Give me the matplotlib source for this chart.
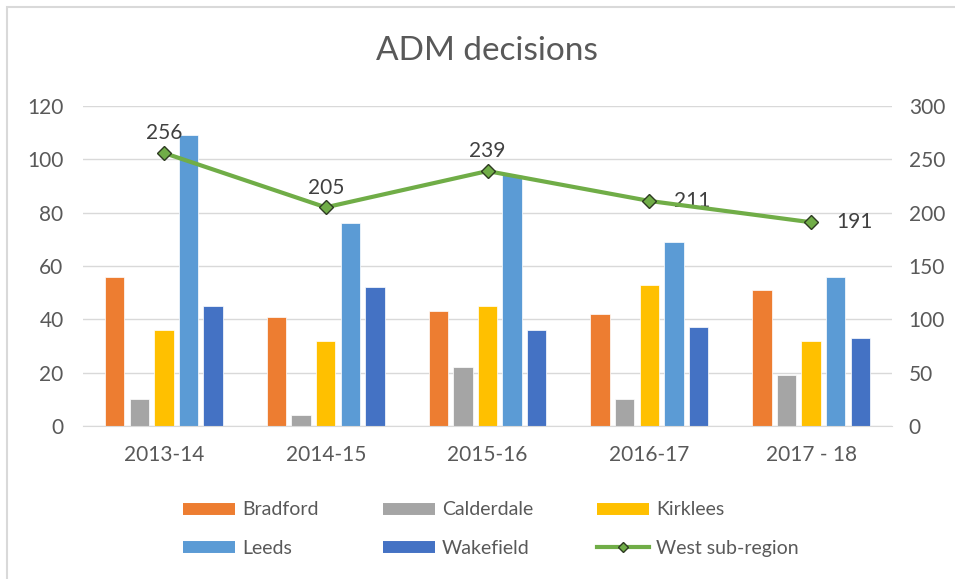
import matplotlib
matplotlib.use("Agg")
import matplotlib.pyplot as plt
import numpy as np
from matplotlib.lines import Line2D
from matplotlib.patches import Rectangle

plt.rcParams['font.family'] = ['Lato', 'DejaVu Sans']

categories = ["2013-14", "2014-15", "2015-16", "2016-17", "2017 - 18"]
bradford = [56, 41, 43, 42, 51]
calderdale = [10, 4, 22, 10, 19]
kirklees = [36, 32, 45, 53, 32]
leeds = [109, 76, 94, 69, 56]
wakefield = [45, 52, 36, 37, 33]
west = [256, 205, 239, 211, 191]

series = [("Bradford", bradford, "#ED7D31"),
          ("Calderdale", calderdale, "#A5A5A5"),
          ("Kirklees", kirklees, "#FFC000"),
          ("Leeds", leeds, "#5B9BD5"),
          ("Wakefield", wakefield, "#4472C4")]

txt = "#595959"
fig = plt.figure(figsize=(9.55, 5.79), dpi=100)
ax = fig.add_axes([83/955, 1-426/579, (892-83)/955, (426-106)/579])
ax2 = ax.twinx()

x = np.arange(len(categories))
step = 0.152
width = 0.12
handles = {}
for i, (name, vals, col) in enumerate(series):
    ax.bar(x + (i-2)*step, vals, width, color=col, edgecolor="white", linewidth=0.5, zorder=2, label=name)
    handles[name] = Line2D([], [], color=col, lw=8.6, solid_capstyle='butt')

ax.set_xlim(-0.5, len(categories)-0.5)
ax.set_ylim(0, 120)
ax.set_yticks(range(0, 121, 20))
ax.set_xticks(x)
ax.set_xticklabels(categories)
ax.grid(axis='y', color="#D9D9D9", lw=1, zorder=0)
ax.set_axisbelow(True)
for s in ["top", "left", "right"]:
    ax.spines[s].set_visible(False)
ax.spines["bottom"].set_color("#D9D9D9")
ax.tick_params(length=0, labelsize=15, colors=txt)
ax.tick_params(axis='x', pad=14)
ax.tick_params(axis='y', pad=14)

ax2.set_ylim(0, 300)
ax2.set_yticks(range(0, 301, 50))
for s in ["top", "left", "right", "bottom"]:
    ax2.spines[s].set_visible(False)
ax2.tick_params(length=0, labelsize=15, colors=txt, pad=12)
ax2.plot(x, west, color="#70AD47", lw=3, marker='D', markersize=7,
         markerfacecolor="#70AD47", markeredgecolor="#2E3B22", markeredgewidth=1, zorder=5)
handles["West sub-region"] = Line2D([], [], color="#70AD47", lw=3, marker='D', markersize=5,
                                    markerfacecolor="#70AD47", markeredgecolor="#2E3B22")

for i, v in enumerate(west):
    if i < 3:
        ax2.annotate(str(v), (x[i], v), xytext=(0, 7), textcoords="offset points",
                     ha="center", va="bottom", fontsize=15, color="#404040")
    else:
        ax2.annotate(str(v), (x[i], v), xytext=(18, 0), textcoords="offset points",
                     ha="left", va="center", fontsize=15, color="#404040")

fig.text(487/955, 1-51/579, "ADM decisions", ha="center", va="center", fontsize=24, color=txt)

order = ["Bradford", "Leeds", "Calderdale", "Wakefield", "Kirklees", "West sub-region"]
leg = fig.legend([handles[n] for n in order], order, ncol=3, loc="center",
                 bbox_to_anchor=(491/955, 1-529/579), frameon=False, fontsize=14,
                 labelcolor=txt, handlelength=2.68, handletextpad=0.36, columnspacing=3.3,
                 labelspacing=1.1)

fig.patches.append(Rectangle((7/955, -0.1), 1.2, 1-7/579+0.1, transform=fig.transFigure,
                             fill=False, edgecolor="#D9D9D9", lw=1.5))

fig.savefig("out.png", dpi=100)
